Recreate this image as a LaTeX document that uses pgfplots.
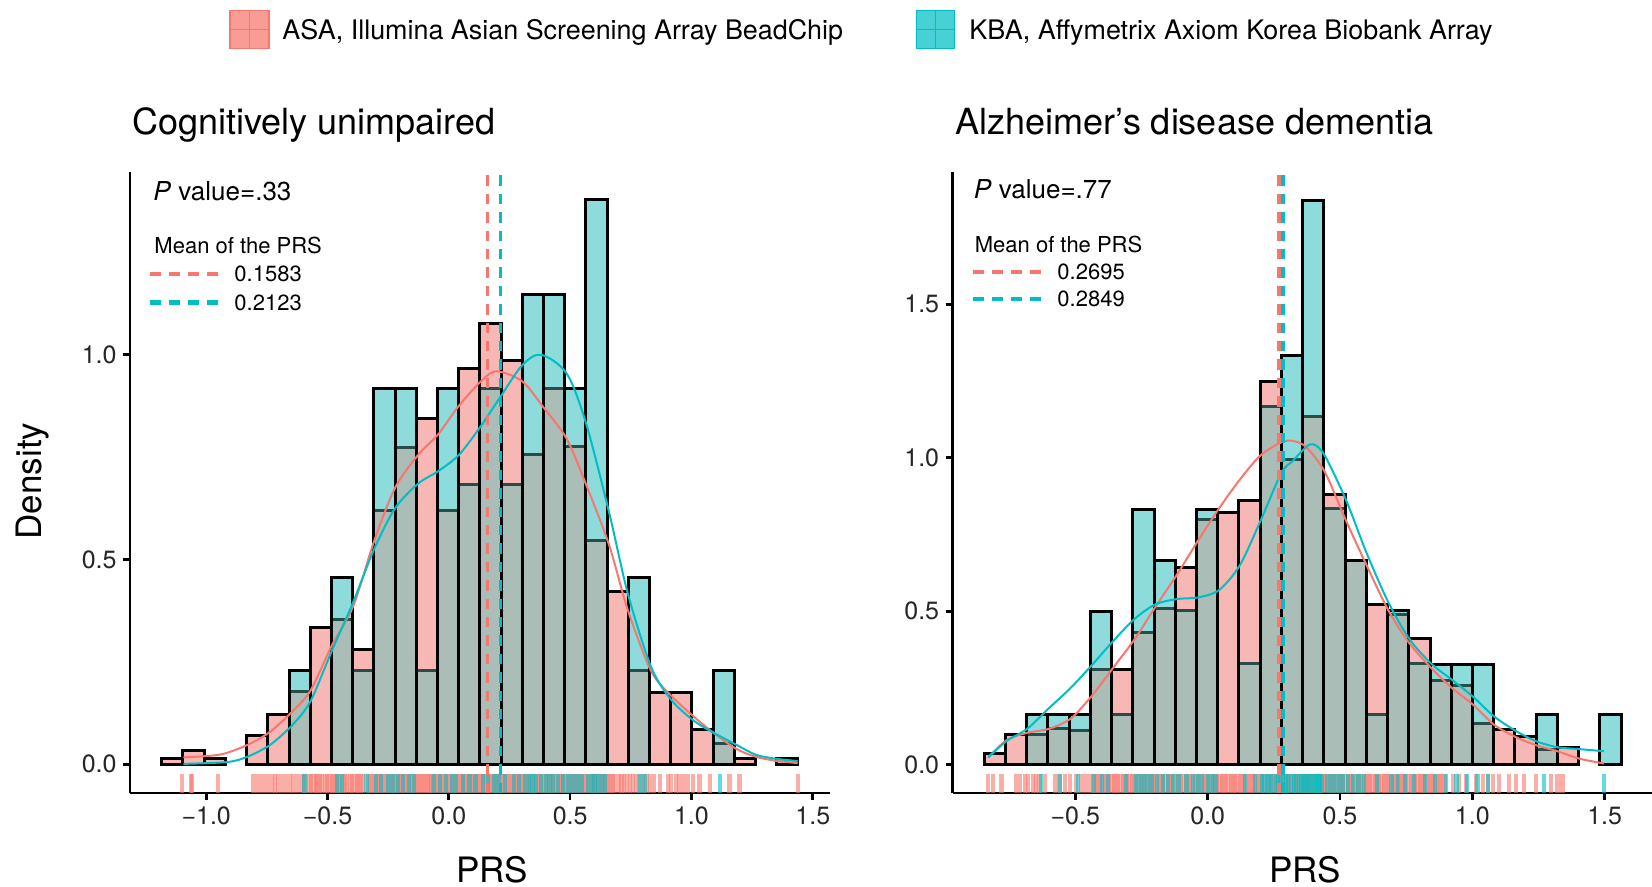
\documentclass[border=0pt]{standalone}
\usepackage{fontspec}
\setmainfont{TeX Gyre Heros}
\usepackage{pgfplots}
\usepackage{pgfplotstable}
\pgfplotsset{compat=1.18}

\definecolor{asa}{RGB}{248,118,109}
\definecolor{kba}{RGB}{0,191,196}
\definecolor{asafill}{RGB}{247,184,181}
\definecolor{kbafill}{RGB}{142,219,220}
\definecolor{bothfill}{RGB}{170,189,183}
\definecolor{lowedge}{RGB}{40,76,72}

\newcommand\fs[1]{\fontsize{#1}{#1}\selectfont}

\pgfplotsset{
  panel/.style={
    scale only axis, width=350pt, height=310.5pt, anchor=south west,
    axis x line*=bottom, axis y line*=left,
    axis line style={-, line width=1.35pt, black},
    tick style={line width=1.35pt, black},
    tick align=outside, major tick length=3.5pt,
    tick label style={font=\fs{12.5}, text=black!85, inner sep=0pt},
    xticklabel style={yshift=-3pt},
    yticklabel style={xshift=-3pt},
  },
  bars/.style={ybar, bar width=#1, bar shift=0pt},
  nz/.style={y filter/.expression={y==0 ? nan : y}},
  rug/.style n args={2}{draw=none, mark=none,
    error bars/.cd, y dir=plus, y fixed=#2, error mark=none,
    error bar style={draw=#1, line width=2.1pt, opacity=0.6}},
  dens/.style={#1, line width=1pt, smooth},
  mean/.style={#1, line width=1.7pt, dash pattern=on 5.2pt off 4pt},
}

% histogram heights (density), bin centres
\pgfplotstableread{
c asa kba
-1.1393 0.015 0
-1.0519 0.033 0
-0.9645 0.015 0
-0.8771 0 0
-0.7897 0.070 0
-0.7023 0.122 0
-0.6149 0.177 0.229
-0.5275 0.334 0
-0.4401 0.354 0.456
-0.3527 0.280 0.229
-0.2653 0.618 0.916
-0.1779 0.772 0.916
-0.0905 0.843 0.229
-0.0031 0.618 0.916
0.0843 0.966 0.683
0.1717 1.076 0.916
0.2591 0.986 0.683
0.3465 0.757 1.147
0.4339 0.916 1.147
0.5213 0.775 0.916
0.6087 0.546 1.377
0.6961 0.421 0
0.7835 0.229 0.456
0.8709 0.175 0
0.9583 0.175 0
1.0457 0.086 0
1.1331 0.051 0.229
1.2205 0.013 0
1.3079 0 0
1.3953 0.013 0
}\histL

\pgfplotstableread{
c asa kba
-0.8039 0.037 0
-0.7237 0.097 0
-0.6435 0.097 0.164
-0.5633 0.117 0.164
-0.4831 0.110 0.164
-0.4029 0.310 0.499
-0.3227 0.310 0.164
-0.2425 0.430 0.832
-0.1623 0.509 0.665
-0.0821 0.642 0.503
-0.0019 0.798 0.832
0.0783 0.822 0
0.1585 0.862 0.330
0.2387 1.250 1.168
0.3189 0.995 1.334
0.3991 1.134 1.839
0.4793 0.882 0.835
0.5595 0.665 0.665
0.6397 0.523 0.164
0.7199 0.490 0.503
0.8001 0.410 0.330
0.8803 0.274 0.327
0.9605 0.257 0.327
1.0407 0.133 0.327
1.1209 0.114 0
1.2011 0.093 0
1.2813 0.050 0.164
1.3615 0.057 0
1.4417 0 0
1.5219 0 0.164
}\histR

% rug positions
\pgfplotstableread[row sep=\\]{x\\
-1.099\\-1.062\\-1.057\\-0.952\\-0.805\\-0.787\\-0.768\\-0.749\\-0.731\\-0.716\\-0.704\\-0.687\\
-0.672\\-0.655\\-0.640\\-0.621\\-0.605\\-0.596\\-0.588\\-0.577\\-0.569\\-0.558\\-0.549\\-0.541\\
-0.530\\-0.522\\-0.511\\-0.503\\-0.494\\-0.483\\-0.475\\-0.466\\-0.455\\-0.447\\-0.436\\-0.428\\
-0.419\\-0.408\\-0.400\\-0.391\\-0.380\\-0.372\\-0.361\\-0.353\\-0.334\\-0.326\\-0.318\\-0.309\\
-0.301\\-0.292\\-0.284\\-0.275\\-0.267\\-0.258\\-0.250\\-0.241\\-0.233\\-0.224\\-0.216\\-0.207\\
-0.199\\-0.190\\-0.182\\-0.173\\-0.165\\-0.156\\-0.148\\-0.139\\-0.131\\-0.122\\-0.114\\-0.105\\
-0.097\\-0.088\\-0.080\\-0.071\\-0.063\\-0.054\\-0.046\\-0.037\\-0.029\\-0.020\\-0.012\\-0.003\\
0.005\\0.014\\0.022\\0.031\\0.039\\0.048\\0.056\\0.065\\0.073\\0.082\\0.090\\0.099\\
0.107\\0.116\\0.124\\0.133\\0.141\\0.150\\0.158\\0.167\\0.175\\0.184\\0.192\\0.201\\
0.209\\0.218\\0.226\\0.235\\0.243\\0.252\\0.260\\0.269\\0.277\\0.286\\0.294\\0.303\\
0.311\\0.320\\0.328\\0.337\\0.345\\0.354\\0.362\\0.371\\0.379\\0.388\\0.396\\0.405\\
0.413\\0.422\\0.430\\0.439\\0.447\\0.456\\0.464\\0.473\\0.481\\0.490\\0.498\\0.507\\
0.515\\0.524\\0.532\\0.541\\0.549\\0.558\\0.566\\0.575\\0.583\\0.592\\0.600\\0.609\\
0.617\\0.626\\0.634\\0.643\\0.651\\0.660\\0.668\\0.677\\0.685\\0.700\\0.712\\0.722\\
0.735\\0.748\\0.760\\0.772\\0.785\\0.800\\0.815\\0.828\\0.845\\0.870\\0.903\\0.917\\
0.935\\0.951\\0.970\\0.985\\1.006\\1.033\\1.075\\1.157\\1.198\\1.438\\
}\rugAL

\pgfplotstableread[row sep=\\]{x\\
-0.595\\-0.462\\-0.441\\-0.339\\-0.300\\-0.281\\-0.252\\-0.232\\-0.210\\-0.190\\-0.165\\-0.145\\
-0.060\\-0.035\\-0.010\\0.012\\0.030\\0.060\\0.085\\0.110\\0.140\\0.160\\0.185\\0.205\\
0.230\\0.270\\0.290\\0.313\\0.330\\0.345\\0.360\\0.380\\0.400\\0.415\\0.430\\0.450\\
0.470\\0.490\\0.510\\0.530\\0.550\\0.575\\0.590\\0.600\\0.615\\0.630\\0.645\\0.790\\
0.810\\1.116\\
}\rugKL

\pgfplotstableread[row sep=\\]{x\\
-0.829\\-0.810\\-0.779\\-0.725\\-0.710\\-0.691\\-0.678\\-0.660\\-0.648\\-0.635\\-0.616\\-0.577\\
-0.558\\-0.540\\-0.521\\-0.496\\-0.477\\-0.458\\-0.440\\-0.431\\-0.423\\-0.414\\-0.406\\-0.397\\
-0.389\\-0.380\\-0.372\\-0.363\\-0.355\\-0.346\\-0.338\\-0.329\\-0.321\\-0.312\\-0.304\\-0.295\\
-0.287\\-0.278\\-0.270\\-0.261\\-0.253\\-0.244\\-0.236\\-0.227\\-0.219\\-0.210\\-0.202\\-0.193\\
-0.185\\-0.176\\-0.168\\-0.159\\-0.151\\-0.142\\-0.134\\-0.125\\-0.117\\-0.108\\-0.100\\-0.091\\
-0.083\\-0.074\\-0.066\\-0.057\\-0.049\\-0.040\\-0.032\\-0.023\\-0.015\\-0.006\\0.002\\0.011\\
0.019\\0.028\\0.036\\0.045\\0.053\\0.062\\0.070\\0.079\\0.087\\0.096\\0.104\\0.113\\
0.121\\0.130\\0.138\\0.147\\0.155\\0.164\\0.172\\0.181\\0.189\\0.198\\0.206\\0.215\\
0.223\\0.232\\0.240\\0.249\\0.257\\0.266\\0.274\\0.283\\0.291\\0.300\\0.308\\0.317\\
0.325\\0.334\\0.342\\0.351\\0.359\\0.368\\0.376\\0.385\\0.393\\0.402\\0.410\\0.419\\
0.427\\0.436\\0.444\\0.453\\0.461\\0.470\\0.478\\0.487\\0.495\\0.504\\0.512\\0.521\\
0.529\\0.538\\0.546\\0.555\\0.563\\0.572\\0.580\\0.589\\0.597\\0.606\\0.614\\0.623\\
0.631\\0.640\\0.648\\0.657\\0.665\\0.674\\0.682\\0.691\\0.699\\0.708\\0.716\\0.725\\
0.733\\0.742\\0.750\\0.759\\0.767\\0.776\\0.784\\0.793\\0.801\\0.810\\0.818\\0.827\\
0.835\\0.844\\0.852\\0.861\\0.869\\0.878\\0.886\\0.895\\0.926\\0.951\\0.976\\1.014\\
1.039\\1.058\\1.077\\1.102\\1.140\\1.165\\1.196\\1.240\\1.297\\1.322\\1.341\\
}\rugAR

\pgfplotstableread[row sep=\\]{x\\
-0.630\\-0.560\\-0.490\\-0.430\\-0.400\\-0.375\\-0.310\\-0.270\\-0.255\\-0.240\\-0.225\\-0.210\\
-0.190\\-0.170\\-0.150\\-0.130\\-0.110\\-0.080\\-0.055\\-0.035\\-0.020\\0.000\\0.015\\0.030\\
0.140\\0.180\\0.205\\0.215\\0.230\\0.240\\0.255\\0.265\\0.275\\0.285\\0.295\\0.305\\
0.315\\0.325\\0.335\\0.345\\0.355\\0.362\\0.370\\0.377\\0.384\\0.391\\0.398\\0.405\\
0.412\\0.419\\0.426\\0.433\\0.450\\0.465\\0.480\\0.495\\0.510\\0.530\\0.550\\0.570\\
0.590\\0.640\\0.695\\0.720\\0.745\\0.780\\0.820\\0.860\\0.900\\0.940\\0.980\\1.020\\
1.060\\1.272\\1.497\\
}\rugKR

\begin{document}
\begin{tikzpicture}

% ---------- left panel ----------
\begin{axis}[panel, at={(65pt,47pt)},
  xmin=-1.314, xmax=1.571, ymin=-0.070, ymax=1.445,
  xtick={-1,-0.5,0,0.5,1,1.5}, xticklabels={−1.0,−0.5,0.0,0.5,1.0,1.5},
  ytick={0,0.5,1}, yticklabels={0.0,0.5,1.0}]
  \addplot[rug={asa}{0.046}] table[x index=0, y index=0, y expr=-0.070] {\rugAL};
  \addplot[rug={kba}{0.046}] table[x index=0, y index=0, y expr=-0.070] {\rugKL};
  \addplot[bars=0.0874, nz, fill=asafill, draw=none] table[x=c, y=asa] {\histL};
  \addplot[bars=0.0874, nz, fill=kbafill, draw=none] table[x=c, y=kba] {\histL};
  \addplot[bars=0.0874, nz, fill=bothfill, draw=none] table[x=c, y expr={min(\thisrow{asa},\thisrow{kba})}] {\histL};
  \addplot[bars=0.0874, nz, draw=lowedge, line width=1.5pt] table[x=c, y expr={min(\thisrow{asa},\thisrow{kba})}] {\histL};
  \addplot[bars=0.0874, nz, draw=black, line width=1.5pt] table[x=c, y expr={max(\thisrow{asa},\thisrow{kba})}] {\histL};
  \addplot[dens=asa] coordinates {
    (-1.094,0.017) (-0.94,0.024) (-0.82,0.050) (-0.733,0.081) (-0.643,0.130)
    (-0.570,0.180) (-0.482,0.290) (-0.394,0.386) (-0.307,0.546) (-0.221,0.675)
    (-0.126,0.755) (-0.044,0.805) (0.042,0.875) (0.132,0.934) (0.196,0.959)
    (0.303,0.934) (0.391,0.870) (0.485,0.795) (0.564,0.685) (0.660,0.536)
    (0.738,0.376) (0.834,0.227) (0.917,0.167) (1.006,0.118) (1.088,0.078)
    (1.184,0.038) (1.267,0.018) (1.356,0.008) (1.438,0.003)};
  \addplot[dens=kba] coordinates {
    (-1.094,0.001) (-0.907,0.006) (-0.82,0.021) (-0.733,0.049) (-0.643,0.097)
    (-0.570,0.154) (-0.482,0.277) (-0.394,0.396) (-0.307,0.526) (-0.221,0.625)
    (-0.126,0.685) (-0.044,0.715) (0.042,0.755) (0.132,0.825) (0.210,0.894)
    (0.303,0.974) (0.380,0.999) (0.485,0.954) (0.564,0.835) (0.660,0.616)
    (0.738,0.416) (0.834,0.237) (0.917,0.157) (1.006,0.108) (1.088,0.078)
    (1.184,0.048) (1.267,0.023) (1.356,0.013) (1.438,0.008)};
  \addplot[mean=asa] coordinates {(0.1583,-0.07) (0.1583,1.445)};
  \addplot[mean=kba] coordinates {(0.2123,-0.07) (0.2123,1.445)};
\end{axis}

% ---------- right panel ----------
\begin{axis}[panel, at={(476.25pt,47pt)},
  xmin=-0.964, xmax=1.681, ymin=-0.092, ymax=1.931,
  xtick={-0.5,0,0.5,1,1.5}, xticklabels={−0.5,0.0,0.5,1.0,1.5},
  ytick={0,0.5,1,1.5}, yticklabels={0.0,0.5,1.0,1.5}]
  \addplot[rug={asa}{0.062}] table[x index=0, y index=0, y expr=-0.092] {\rugAR};
  \addplot[rug={kba}{0.062}] table[x index=0, y index=0, y expr=-0.092] {\rugKR};
  \addplot[bars=0.0802, nz, fill=asafill, draw=none] table[x=c, y=asa] {\histR};
  \addplot[bars=0.0802, nz, fill=kbafill, draw=none] table[x=c, y=kba] {\histR};
  \addplot[bars=0.0802, nz, fill=bothfill, draw=none] table[x=c, y expr={min(\thisrow{asa},\thisrow{kba})}] {\histR};
  \addplot[bars=0.0802, nz, draw=lowedge, line width=1.5pt] table[x=c, y expr={min(\thisrow{asa},\thisrow{kba})}] {\histR};
  \addplot[bars=0.0802, nz, draw=black, line width=1.5pt] table[x=c, y expr={max(\thisrow{asa},\thisrow{kba})}] {\histR};
  \addplot[dens=asa] coordinates {
    (-0.829,0.024) (-0.760,0.080) (-0.682,0.104) (-0.600,0.117) (-0.518,0.150)
    (-0.439,0.223) (-0.357,0.316) (-0.275,0.410) (-0.196,0.516) (-0.114,0.622)
    (-0.037,0.729) (0.043,0.835) (0.121,0.928) (0.200,1.008) (0.278,1.050)
    (0.322,1.055) (0.372,1.035) (0.442,0.955) (0.523,0.795) (0.601,0.649)
    (0.683,0.503) (0.762,0.396) (0.844,0.316) (0.923,0.250) (1.001,0.197)
    (1.083,0.130) (1.165,0.090) (1.240,0.064) (1.322,0.044) (1.404,0.020)
    (1.498,0.004)};
  \addplot[dens=kba] coordinates {
    (-0.829,0.024) (-0.760,0.077) (-0.682,0.117) (-0.600,0.184) (-0.518,0.250)
    (-0.439,0.323) (-0.357,0.403) (-0.275,0.476) (-0.196,0.523) (-0.114,0.540)
    (-0.037,0.545) (0.043,0.569) (0.121,0.649) (0.200,0.795) (0.278,0.950)
    (0.322,0.990) (0.372,1.035) (0.400,1.044) (0.442,1.008) (0.523,0.862)
    (0.601,0.689) (0.683,0.529) (0.762,0.410) (0.844,0.330) (0.923,0.277)
    (1.001,0.223) (1.083,0.157) (1.165,0.110) (1.240,0.077) (1.322,0.057)
    (1.404,0.051) (1.498,0.044)};
  \addplot[mean=asa] coordinates {(0.2695,-0.092) (0.2695,1.931)};
  \addplot[mean=kba] coordinates {(0.2849,-0.092) (0.2849,1.931)};
\end{axis}

% ---------- titles and labels ----------
\node[anchor=base west, font=\fs{18}] at (62.5pt,376.4pt) {Cognitively unimpaired};
\node[anchor=base west, font=\fs{18}] at (474.3pt,376.4pt) {Alzheimer’s disease dementia};
\node[anchor=base, font=\fs{17.5}] at (246pt,2.2pt) {PRS};
\node[anchor=base, font=\fs{17.5}] at (652.5pt,2.2pt) {PRS};
\node[anchor=base, rotate=90, font=\fs{17.5}] at (20.5pt,203pt) {Density};

% annotations, left
\node[anchor=base west, font=\fs{13}] at (73.2pt,343.3pt) {\textit{P} value=.33};
\node[anchor=base west, font=\fs{11}] at (73.7pt,316.7pt) {Mean of the PRS};
\draw[asa, line width=2.2pt, dash pattern=on 5.3pt off 4.2pt] (75pt,306.5pt) -- (109.2pt,306.5pt);
\node[anchor=base west, font=\fs{11}] at (113.7pt,302.6pt) {0.1583};
\draw[kba, line width=2.2pt, dash pattern=on 5.3pt off 4.2pt] (75pt,292.3pt) -- (109.2pt,292.3pt);
\node[anchor=base west, font=\fs{11}] at (113.7pt,288.4pt) {0.2123};

% annotations, right
\node[anchor=base west, font=\fs{13}] at (483.4pt,344.3pt) {\textit{P} value=.77};
\node[anchor=base west, font=\fs{11}] at (483.9pt,317.2pt) {Mean of the PRS};
\draw[asa, line width=2.2pt, dash pattern=on 5.3pt off 4.2pt] (486.5pt,307.6pt) -- (520.7pt,307.6pt);
\node[anchor=base west, font=\fs{11}] at (525.2pt,303.7pt) {0.2695};
\draw[kba, line width=2.2pt, dash pattern=on 5.3pt off 4.2pt] (486.5pt,293.9pt) -- (520.7pt,293.9pt);
\node[anchor=base west, font=\fs{11}] at (525.2pt,290pt) {0.2849};

% ---------- top legend ----------
\fill[asa!72] (114.85pt,419.25pt) rectangle (134.35pt,438.25pt);
\draw[asa, line width=0.8pt] (114.85pt,419.25pt) rectangle (134.35pt,438.25pt);
\draw[asa, line width=0.5pt] (124.6pt,419.25pt) -- (124.6pt,438.25pt) (114.85pt,428.75pt) -- (134.35pt,428.75pt);
\node[anchor=base west, font=\fs{13.45}] at (137.7pt,423.85pt) {ASA, Illumina Asian Screening Array BeadChip};
\fill[kba!72] (458.3pt,419.25pt) rectangle (477.3pt,438.25pt);
\draw[kba, line width=0.8pt] (458.3pt,419.25pt) rectangle (477.3pt,438.25pt);
\draw[kba, line width=0.5pt] (467.8pt,419.25pt) -- (467.8pt,438.25pt) (458.3pt,428.75pt) -- (477.3pt,428.75pt);
\node[anchor=base west, font=\fs{13.45}] at (481.2pt,423.85pt) {KBA, Affymetrix Axiom Korea Biobank Array};

\pgfresetboundingbox
\path[use as bounding box] (0,0) rectangle (826pt,443.5pt);
\end{tikzpicture}
\end{document}
